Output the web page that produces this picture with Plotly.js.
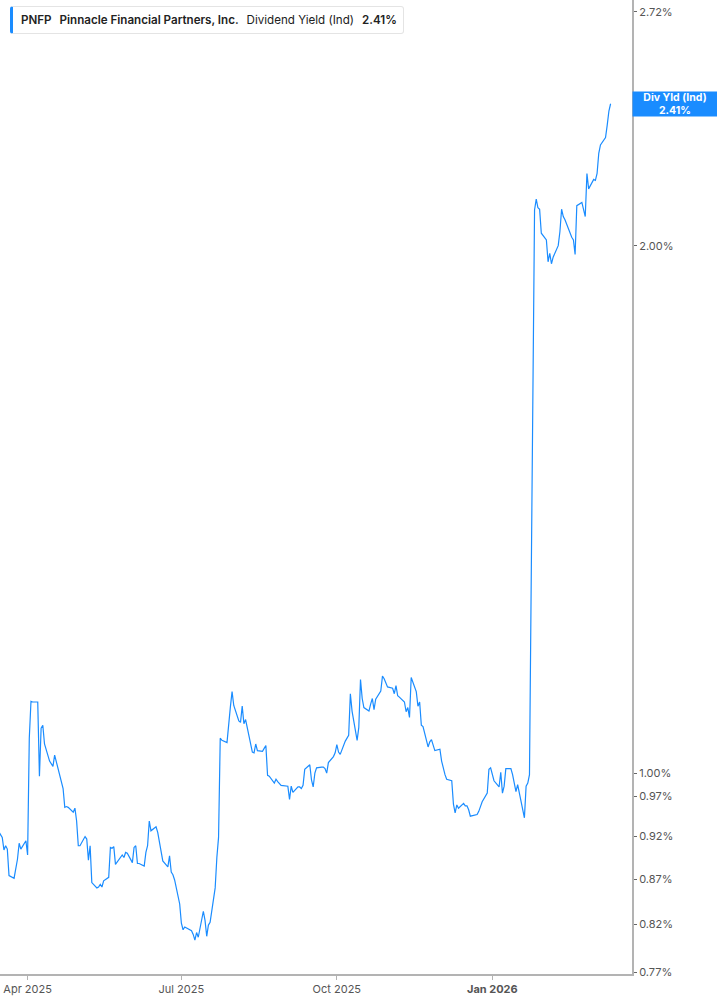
<!DOCTYPE html>
<html>
<head>
<meta charset="utf-8">
<script src="https://cdn.plot.ly/plotly-3.0.1.min.js"></script>
<style>
  html, body { margin: 0; padding: 0; background: #fff; }
  #wrap { position: relative; width: 717px; height: 1005px; }
  #chart { width: 717px; height: 1005px; }
  #legend {
    position: absolute; left: 10px; top: 6px;
    height: 26px; line-height: 26px;
    padding: 0 6px 0 8px;
    background: #fff;
    border: 1px solid #e4e4e4; border-left: 3px solid #1a8cff;
    border-radius: 3px;
    font-family: Inter, "Noto Sans", sans-serif; font-size: 11.6px; color: #222;
    white-space: nowrap;
  }
  #legend b { font-weight: 600; }
  #legend span { margin-right: 8px; }
</style>
</head>
<body>
<div id="wrap">
  <div id="chart"></div>
  <div id="legend"><span><b>PNFP</b></span><span><b>Pinnacle Financial Partners, Inc.</b></span><span>Dividend Yield (Ind)</span><b>2.41%</b></div>
</div>
<script>
// Dividend yield (indicated), %, one value per trading day, last day 2026-03-12
const yieldPct = [
  0.929, 0.919, 0.904, 0.909, 0.905, 0.874, 0.871, 0.883, 0.893, 0.912,
  0.905, 0.915, 0.898, 1.047, 1.099, 1.098, 1.098, 0.996, 1.061, 1.065,
  1.039, 1.016, 1.012, 1.009, 1.024, 0.990, 0.980, 0.956, 0.957, 0.956,
  0.950, 0.955, 0.939, 0.909, 0.909, 0.920, 0.917, 0.892, 0.909, 0.866,
  0.860, 0.861, 0.864, 0.861, 0.868, 0.872, 0.907, 0.906, 0.908, 0.887,
  0.898, 0.895, 0.901, 0.900, 0.889, 0.907, 0.909, 0.888, 0.888, 0.885,
  0.901, 0.909, 0.939, 0.927, 0.932, 0.925, 0.915, 0.891, 0.884, 0.897,
  0.878, 0.875, 0.869, 0.842, 0.821, 0.814, 0.817, 0.813, 0.809, 0.803,
  0.811, 0.806, 0.834, 0.824, 0.807, 0.819, 0.822, 0.860, 0.895, 0.919,
  1.047, 1.044, 1.041, 1.072, 1.091, 1.113, 1.093, 1.071, 1.069, 1.092,
  1.067, 1.073, 1.038, 1.028, 1.027, 1.039, 1.030, 1.029, 1.033, 1.037,
  0.997, 0.996, 0.987, 0.992, 0.989, 0.986, 0.984, 0.983, 0.966, 0.983,
  0.975, 0.982, 0.982, 0.980, 0.984, 1.005, 1.011, 0.991, 0.982, 1.000,
  1.007, 1.008, 1.008, 1.006, 1.000, 1.014, 1.022, 1.027, 1.038, 1.028,
  1.025, 1.043, 1.047, 1.051, 1.110, 1.085, 1.044, 1.062, 1.131, 1.103,
  1.090, 1.085, 1.095, 1.103, 1.087, 1.102, 1.114, 1.136, 1.132, 1.126,
  1.120, 1.118, 1.110, 1.122, 1.107, 1.105, 1.098, 1.084, 1.090, 1.076,
  1.134, 1.113, 1.092, 1.098, 1.065, 1.063, 1.035, 1.042, 1.045, 1.030,
  1.032, 1.016, 1.005, 0.998, 0.992, 0.990, 0.960, 0.949, 0.959, 0.955,
  0.961, 0.958, 0.958, 0.953, 0.945, 0.947, 0.947, 0.951, 0.963, 0.974,
  1.005, 1.007, 0.990, 0.982, 1.001, 0.974, 0.983, 1.006, 1.006, 0.998,
  0.985, 0.976, 0.985, 0.943, 0.983, 0.987, 0.998,
  2.096, 2.126, 2.102, 2.098, 2.033, 2.015, 1.958, 1.980, 1.953, 1.970,
  2.000, 2.037, 2.098, 2.078, 2.069, 2.022, 2.015, 1.977, 2.108, 2.117,
  2.096, 2.078, 2.199, 2.155, 2.182, 2.179, 2.199, 2.258, 2.283, 2.305,
  2.343, 2.387, 2.410
];

const lastDate = '2026-03-12';
const marketHolidays = [
  '2025-04-18', '2025-05-26', '2025-06-19', '2025-07-04', '2025-09-01',
  '2025-11-27', '2025-12-25', '2026-01-01', '2026-01-19', '2026-02-16'
];

const yTickVals = [0.77, 0.82, 0.87, 0.92, 0.97, 1.00, 2.00, 2.72];
const yTickText = ['0.77%', '0.82%', '0.87%', '0.92%', '0.97%', '1.00%', '2.00%', '2.72%'];
const xTickVals = ['2025-04-01', '2025-07-01', '2025-10-01', '2026-01-01'];
const xTickText = ['Apr 2025', 'Jul 2025', 'Oct 2025', '<b>Jan 2026</b>'];
const xRange = ['2025-03-15 16:00', '2026-03-24 16:00'];
const yRange = [0.768, 2.762];

const labelName = 'Div Yld (Ind)';
const lineColor = '#1a8cff';

// walk back from the last date, one entry per trading day
function tradingDays(end, n) {
    const out = [];
    const d = new Date(end + 'T00:00:00Z');
    while (out.length < n) {
        const iso = d.toISOString().slice(0, 10);
        const wd = d.getUTCDay();
        if (wd !== 0 && wd !== 6 && !marketHolidays.includes(iso)) out.push(iso);
        d.setUTCDate(d.getUTCDate() - 1);
    }
    return out.reverse();
}

const dates = tradingDays(lastDate, yieldPct.length);
const lastVal = yieldPct[yieldPct.length - 1];

const trace = {
    x: dates,
    y: yieldPct,
    type: 'scatter',
    mode: 'lines',
    line: { color: lineColor, width: 1.2 },
    hoverinfo: 'skip'
};

const axisFont = { family: 'Inter, Roboto, sans-serif', size: 11, color: '#555' };

const layout = {
    width: 717,
    height: 1005,
    margin: { l: 0, r: 85, t: 0, b: 31 },
    paper_bgcolor: '#fff',
    plot_bgcolor: '#fff',
    showlegend: false,
    font: axisFont,
    xaxis: {
        type: 'date',
        range: xRange,
        tickmode: 'array',
        tickvals: xTickVals,
        ticktext: xTickText,
        showgrid: false,
        zeroline: false,
        showline: true,
        linecolor: '#b3b3b3',
        linewidth: 2,
        ticks: 'outside',
        ticklen: 4,
        tickcolor: '#b3b3b3',
        tickfont: axisFont
    },
    yaxis: {
        type: 'log',
        side: 'right',
        range: yRange.map(v => Math.log10(v)),
        tickmode: 'array',
        tickvals: yTickVals,
        ticktext: yTickText,
        showgrid: false,
        zeroline: false,
        showline: true,
        linecolor: '#b3b3b3',
        linewidth: 2,
        ticks: 'outside',
        ticklen: 3,
        tickcolor: '#666',
        tickfont: axisFont
    },
    annotations: [{
        xref: 'paper', x: 1, xanchor: 'left',
        yref: 'y', y: Math.log10(lastVal), yanchor: 'middle',
        text: '<b>' + labelName + '</b><br><b>' + lastVal.toFixed(2) + '%</b>',
        showarrow: false,
        align: 'center',
        bgcolor: lineColor,
        width: 82,
        height: 22,
        borderpad: 1,
        font: { family: 'Inter, Roboto, sans-serif', size: 10.5, color: '#fff' }
    }]
};

Plotly.newPlot('chart', [trace], layout, { displayModeBar: false, staticPlot: true });
</script>
</body>
</html>
